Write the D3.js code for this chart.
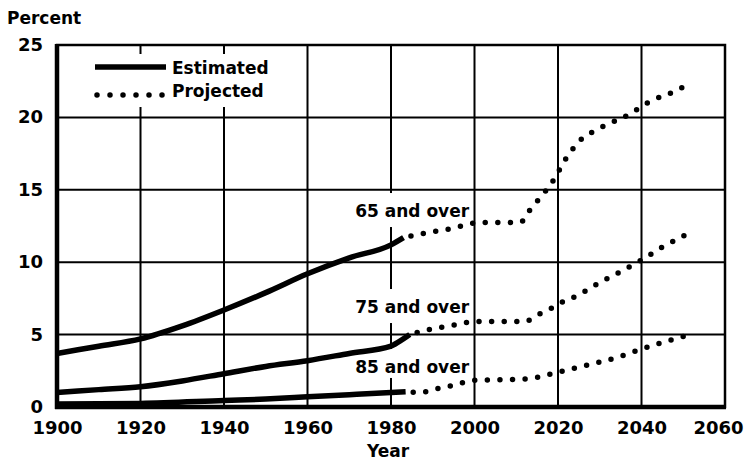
<!DOCTYPE html>
<html><head><meta charset="utf-8">
<script src="https://cdn.jsdelivr.net/npm/d3@7"></script>
<style>
body{margin:0;background:#fff;}
text{font-family:"DejaVu Sans",sans-serif;font-weight:bold;fill:#000;}
</style></head>
<body>
<svg id="c" width="746" height="462"></svg>
<script>
// ---- data ----
const xTicks = [1900,1920,1940,1960,1980,2000,2020,2040,2060];
const yTicks = [0,5,10,15,20,25];

const years65Est = [1900,1910,1920,1930,1940,1950,1960,1970,1980,1983];
const pct65Est   = [3.7,4.2,4.7,5.6,6.7,7.9,9.2,10.3,11.2,11.7];
const years65Proj = [1983,1988,1991,1994,1997,2000,2005,2011,2013,2015,2019,2022,2026,2029,2031,2037,2042,2048,2050.6];
const pct65Proj   = [11.7,12.0,12.15,12.3,12.5,12.7,12.75,12.75,13.5,14.2,15.7,17.2,18.6,19.1,19.4,20.2,21.1,21.8,22.2];

const years75Est = [1900,1910,1920,1930,1940,1950,1960,1970,1980,1981,1984.5];
const pct75Est   = [1.0,1.2,1.4,1.8,2.3,2.8,3.2,3.7,4.2,4.35,5.0];
const years75Proj = [1984.5,1990,1995,2000,2012,2015,2018,2020,2025,2030,2035,2040,2045,2050,2052];
const pct75Proj   = [5.0,5.4,5.65,5.9,5.9,6.35,6.75,7.1,7.75,8.6,9.35,10.15,11.05,11.8,12.1];

const years85Est = [1900,1920,1940,1950,1960,1970,1980,1983.5];
const pct85Est   = [0.2,0.25,0.45,0.55,0.7,0.85,1.0,1.05];
const years85Proj = [1983.5,1987,1990,1995,2000,2010,2015,2020,2025,2030,2035,2040,2045,2051.6];
const pct85Proj   = [1.05,1.0,1.2,1.5,1.85,1.9,2.05,2.4,2.75,3.1,3.5,4.0,4.45,5.0];

const seriesLabels = ["65 and over","75 and over","85 and over"];
const legendLabels = ["Estimated","Projected"];

// ---- layout ----
const svg = d3.select("#c");
const x = d3.scaleLinear().domain([1900,2060]).range([57,725]);
const y = d3.scaleLinear().domain([0,25]).range([407,45]);

const zip = (a,b) => a.map((v,i)=>[v,b[i]]);
const line = d3.line().x(d=>x(d[0])).y(d=>y(d[1])).curve(d3.curveMonotoneX);

// gridlines
svg.append("g").selectAll("line").data(xTicks.slice(1,-1)).join("line")
  .attr("x1",d=>x(d)).attr("x2",d=>x(d)).attr("y1",y(25)).attr("y2",y(0))
  .attr("stroke","#000").attr("stroke-width",2);
svg.append("g").selectAll("line").data(yTicks.slice(1,-1)).join("line")
  .attr("x1",x(1900)).attr("x2",x(2060)).attr("y1",d=>y(d)).attr("y2",d=>y(d))
  .attr("stroke","#000").attr("stroke-width",2);

// legend background
svg.append("rect").attr("x",62).attr("y",54).attr("width",228).attr("height",53).attr("fill","#fff");

// series label backgrounds + labels
const labelPos = [[1998.7,13.12],[1998.7,6.49],[1998.7,2.35]];
labelPos.forEach((p,i)=>{
  svg.append("rect").attr("x",x(p[0])-124).attr("y",y(p[1])-24)
    .attr("width",127).attr("height",i===2?29:34).attr("fill","#fff");
});

// lines
const est = [zip(years65Est,pct65Est),zip(years75Est,pct75Est),zip(years85Est,pct85Est)];
const proj = [zip(years65Proj,pct65Proj),zip(years75Proj,pct75Proj),zip(years85Proj,pct85Proj)];
est.forEach(s=>svg.append("path").attr("d",line(s)).attr("fill","none")
  .attr("stroke","#000").attr("stroke-width",5.5).attr("stroke-linecap","butt"));
proj.forEach(s=>svg.append("path").attr("d",line(s)).attr("fill","none")
  .attr("stroke","#000").attr("stroke-width",5.5).attr("stroke-linecap","round")
  .attr("stroke-dasharray","0 12.6").attr("stroke-dashoffset",5));

// labels
labelPos.forEach((p,i)=>{
  svg.append("text").attr("x",x(p[0])).attr("y",y(p[1])).attr("text-anchor","end")
    .attr("font-size",17).text(seriesLabels[i]);
});

// frame
svg.append("rect").attr("x",x(1900)).attr("y",y(25)).attr("width",x(2060)-x(1900)).attr("height",y(0)-y(25))
  .attr("fill","none").attr("stroke","#000").attr("stroke-width",2.5);
svg.append("line").attr("x1",x(1900)).attr("x2",x(1900)).attr("y1",y(25)-1).attr("y2",y(0)+2)
  .attr("stroke","#000").attr("stroke-width",4.5);
svg.append("line").attr("x1",x(1900)-2).attr("x2",x(2060)+1).attr("y1",y(0)).attr("y2",y(0))
  .attr("stroke","#000").attr("stroke-width",4.5);

// axes labels
const xAxis = d3.axisBottom(x).tickValues(xTicks).tickSize(0).tickPadding(14).tickFormat(d3.format("d"));
const gx = svg.append("g").attr("transform",`translate(0,${y(0)})`).call(xAxis);
gx.select(".domain").remove();
gx.selectAll("text").attr("font-size",18).attr("font-family","DejaVu Sans").attr("font-weight","bold").attr("fill","#000")
  .attr("dx",d=>d===2060?-7:0);

const yAxis = d3.axisLeft(y).tickValues(yTicks).tickSize(0).tickPadding(14).tickFormat(d3.format("d"));
const gy = svg.append("g").attr("transform",`translate(${x(1900)},0)`).call(yAxis);
gy.select(".domain").remove();
gy.selectAll("text").attr("font-size",18).attr("font-family","DejaVu Sans").attr("font-weight","bold").attr("fill","#000").attr("dy","0.3em");

svg.append("text").attr("x",7).attr("y",24).attr("font-size",17).text("Percent");
svg.append("text").attr("x",388).attr("y",457).attr("text-anchor","middle").attr("font-size",17).text("Year");

// legend
svg.append("line").attr("x1",95).attr("x2",166).attr("y1",67).attr("y2",67)
  .attr("stroke","#000").attr("stroke-width",5.5);
svg.append("line").attr("x1",97).attr("x2",165).attr("y1",95).attr("y2",95)
  .attr("stroke","#000").attr("stroke-width",5.5).attr("stroke-linecap","round").attr("stroke-dasharray","0 13");
svg.append("text").attr("x",172).attr("y",74).attr("font-size",17).text(legendLabels[0]);
svg.append("text").attr("x",172).attr("y",97).attr("font-size",17).text(legendLabels[1]);
</script>
</body></html>
